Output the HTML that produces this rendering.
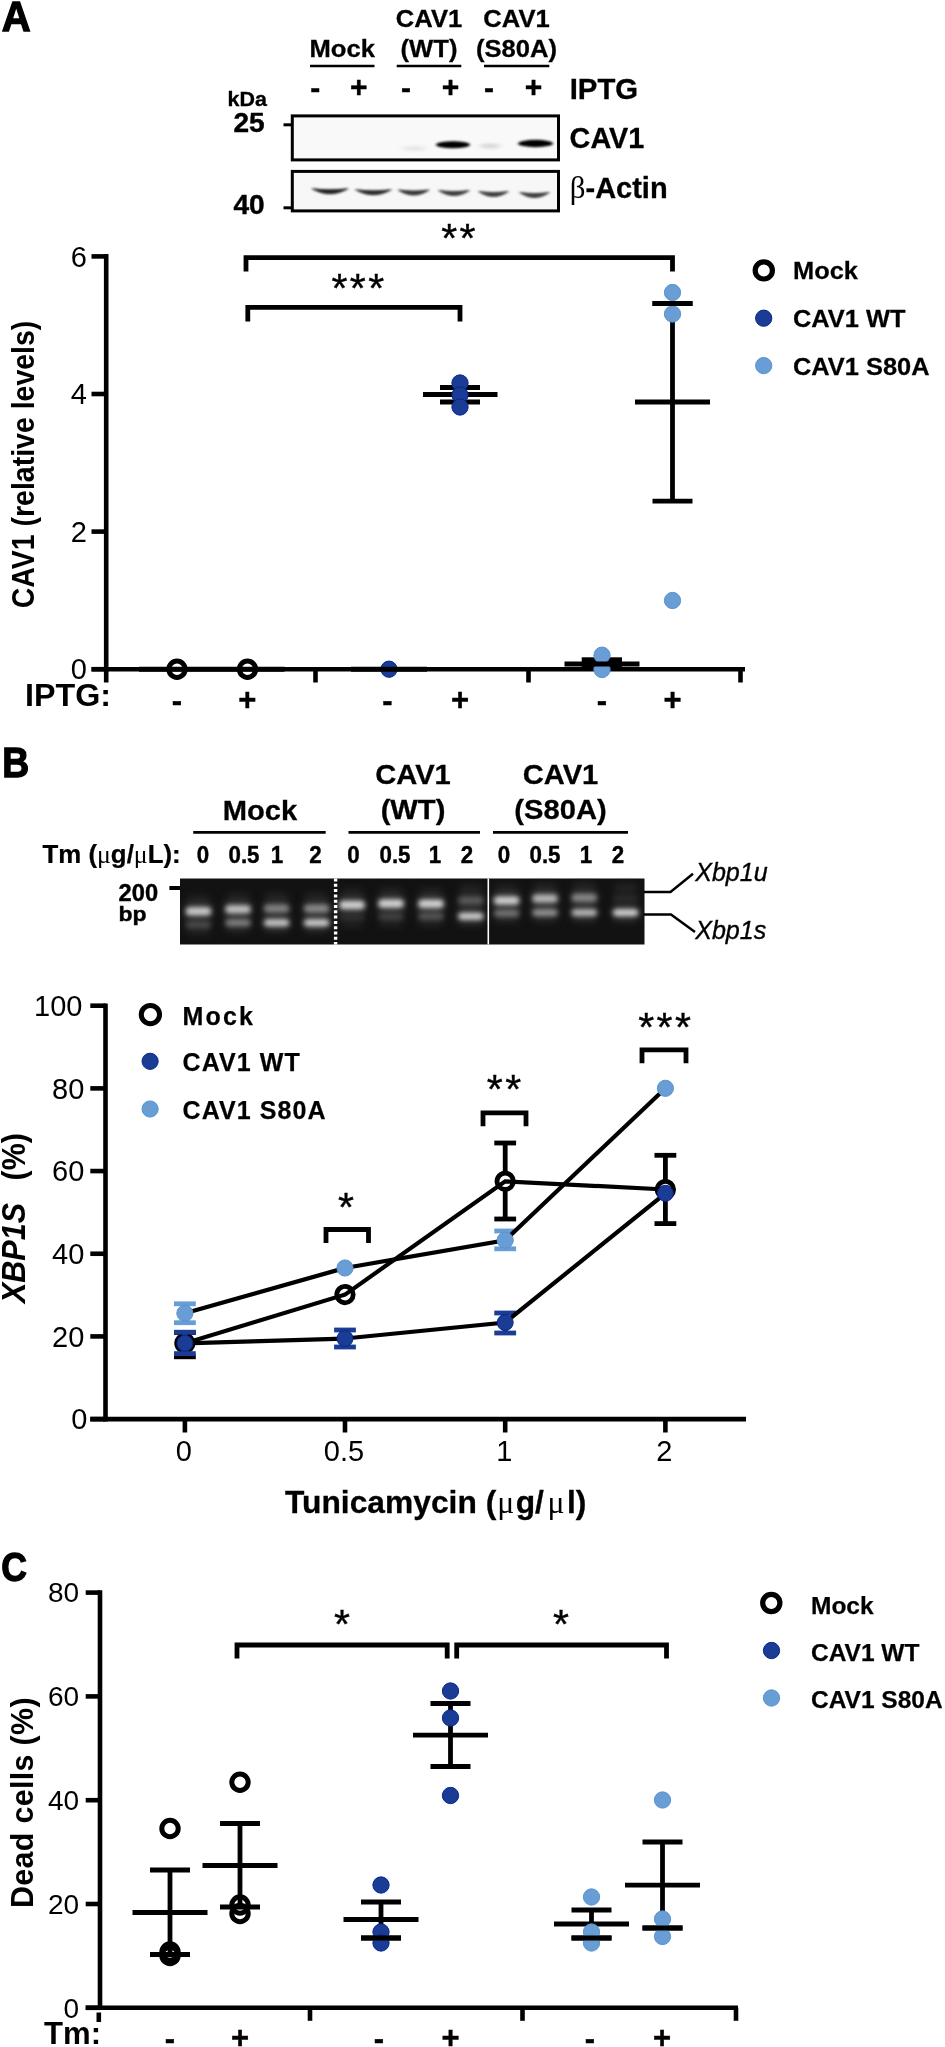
<!DOCTYPE html>
<html><head><meta charset="utf-8"><title>Figure</title>
<style>
html,body{margin:0;padding:0;background:#fff;}
svg{display:block;font-family:"Liberation Sans",sans-serif;}
</style></head><body>
<svg width="945" height="2047" viewBox="0 0 945 2047">
<defs>
<filter id="b1" color-interpolation-filters="sRGB" x="-30%" y="-150%" width="160%" height="400%"><feGaussianBlur stdDeviation="1.8 1.2"/></filter>
<filter id="b3" color-interpolation-filters="sRGB" x="-30%" y="-150%" width="160%" height="400%"><feGaussianBlur stdDeviation="3 1.6"/></filter>
<filter id="b2" color-interpolation-filters="sRGB" x="-30%" y="-150%" width="160%" height="400%"><feGaussianBlur stdDeviation="2.8 2.0"/></filter>
<filter id="b4" color-interpolation-filters="sRGB" x="-30%" y="-150%" width="160%" height="400%"><feGaussianBlur stdDeviation="3.5 3.5"/></filter>
<filter id="soft" color-interpolation-filters="sRGB" x="-5%" y="-5%" width="110%" height="110%"><feGaussianBlur stdDeviation="0.45"/></filter>
</defs>
<rect width="945" height="2047" fill="#fff"/>
<g filter="url(#soft)">

<g id="panelA">
<text transform="translate(1.8,31.3) scale(0.95,1)" font-size="42.2" font-weight="bold" text-anchor="start" stroke="#000" stroke-width="1.3"  style="">A</text>
<text transform="translate(342.2,57) scale(1.045,1)" font-size="24.5" font-weight="bold" text-anchor="middle" stroke="#000" stroke-width="0.3"  style="">Mock</text>
<line x1="310" y1="66" x2="374.5" y2="66" stroke="#000" stroke-width="2.6" />
<text transform="translate(429,26.5) scale(1.045,1)" font-size="24.5" font-weight="bold" text-anchor="middle" stroke="#000" stroke-width="0.3"  style="">CAV1</text>
<text transform="translate(429,57) scale(1.045,1)" font-size="24.5" font-weight="bold" text-anchor="middle" stroke="#000" stroke-width="0.3"  style="">(WT)</text>
<line x1="396.7" y1="66" x2="461.3" y2="66" stroke="#000" stroke-width="2.6" />
<text transform="translate(516.5,26.5) scale(1.045,1)" font-size="24.5" font-weight="bold" text-anchor="middle" stroke="#000" stroke-width="0.3"  style="">CAV1</text>
<text transform="translate(516.5,57) scale(1.045,1)" font-size="24.5" font-weight="bold" text-anchor="middle" stroke="#000" stroke-width="0.3"  style="">(S80A)</text>
<line x1="484" y1="66" x2="549.3" y2="66" stroke="#000" stroke-width="2.6" />
<text transform="translate(315.2,98) scale(1,1)" font-size="30" font-weight="bold" text-anchor="middle" stroke="#000" stroke-width="0.4"  style="">-</text>
<text transform="translate(358.7,97) scale(1,1)" font-size="30" font-weight="bold" text-anchor="middle" stroke="#000" stroke-width="0.4"  style="">+</text>
<text transform="translate(406.1,98) scale(1,1)" font-size="30" font-weight="bold" text-anchor="middle" stroke="#000" stroke-width="0.4"  style="">-</text>
<text transform="translate(450.6,97) scale(1,1)" font-size="30" font-weight="bold" text-anchor="middle" stroke="#000" stroke-width="0.4"  style="">+</text>
<text transform="translate(489.1,98) scale(1,1)" font-size="30" font-weight="bold" text-anchor="middle" stroke="#000" stroke-width="0.4"  style="">-</text>
<text transform="translate(533.6,97) scale(1,1)" font-size="30" font-weight="bold" text-anchor="middle" stroke="#000" stroke-width="0.4"  style="">+</text>
<text transform="translate(569.7,99) scale(1,1)" font-size="29.3" font-weight="bold" text-anchor="start" stroke="#000" stroke-width="0.3"  style="">IPTG</text>
<text transform="translate(227.5,106) scale(1.1,1)" font-size="19.5" font-weight="bold" text-anchor="start" stroke="#000" stroke-width="0.3"  style="">kDa</text>
<text transform="translate(233.5,132.2) scale(1.04,1)" font-size="27" font-weight="bold" text-anchor="start" stroke="#000" stroke-width="0.4"  style="">25</text>
<text transform="translate(233.5,213.8) scale(1.04,1)" font-size="27" font-weight="bold" text-anchor="start" stroke="#000" stroke-width="0.4"  style="">40</text>
<line x1="283.5" y1="124.8" x2="292" y2="124.8" stroke="#000" stroke-width="3" />
<line x1="283.5" y1="207.8" x2="292" y2="207.8" stroke="#000" stroke-width="3" />
<rect x="292.3" y="115.9" width="266.2" height="44" fill="#f9f9f9" stroke="#000" stroke-width="3"/>
<rect x="292.3" y="171.4" width="266.2" height="39.5" fill="#f7f7f7" stroke="#000" stroke-width="3"/>
<text transform="translate(569.6,148) scale(1,1)" font-size="28.8" font-weight="bold" text-anchor="start" stroke="#000" stroke-width="0.3"  style="">CAV1</text>
<text x="569.7" y="198.2" font-size="29" font-weight="bold" stroke="#000" stroke-width="0.3"><tspan font-family="Liberation Serif, serif" font-weight="normal" font-size="31" stroke="none">β</tspan>-Actin</text>
<g filter="url(#b3)">
<ellipse cx="414" cy="148.5" rx="12" ry="2.5" fill="#e6e6e6"/>
<ellipse cx="490" cy="146" rx="10" ry="2.6" fill="#d6d6d6"/>
</g><g filter="url(#b1)">
<ellipse cx="453" cy="144.8" rx="17" ry="3.5" fill="#000"/>
<ellipse cx="453" cy="144.8" rx="12" ry="3.1" fill="#000"/>
<ellipse cx="535.5" cy="143.5" rx="17.5" ry="3.7" fill="#000"/>
<ellipse cx="535.5" cy="143.5" rx="12.5" ry="3.3" fill="#000"/>
<path d="M312.5,188.8 Q330,190.8 347.5,188.8 Q330,198.6 312.5,188.8Z" fill="#262626" stroke="#262626" stroke-width="1.2" stroke-linejoin="round"/>
<path d="M355.9,189.8 Q373.4,191.8 390.9,189.8 Q373.4,199.6 355.9,189.8Z" fill="#2e2e2e" stroke="#2e2e2e" stroke-width="1.2" stroke-linejoin="round"/>
<path d="M398.7,190.0 Q413.7,192.0 428.7,190.0 Q413.7,199.79999999999998 398.7,190.0Z" fill="#383838" stroke="#383838" stroke-width="1.2" stroke-linejoin="round"/>
<path d="M439,190.60000000000002 Q454,192.60000000000002 469,190.60000000000002 Q454,200.4 439,190.60000000000002Z" fill="#404040" stroke="#404040" stroke-width="1.2" stroke-linejoin="round"/>
<path d="M479.0,191.60000000000002 Q493.5,193.60000000000002 508.0,191.60000000000002 Q493.5,201.4 479.0,191.60000000000002Z" fill="#404040" stroke="#404040" stroke-width="1.2" stroke-linejoin="round"/>
<path d="M520.0,192.60000000000002 Q534.5,194.60000000000002 549.0,192.60000000000002 Q534.5,202.4 520.0,192.60000000000002Z" fill="#404040" stroke="#404040" stroke-width="1.2" stroke-linejoin="round"/>
</g>
<line x1="106.2" y1="254.09999999999997" x2="106.2" y2="671.5" stroke="#000" stroke-width="4.6" />
<line x1="91.5" y1="669.2" x2="745" y2="669.2" stroke="#000" stroke-width="4.6" />
<line x1="91.5" y1="669.2" x2="106.2" y2="669.2" stroke="#000" stroke-width="4.6" />
<text transform="translate(87,679.4000000000001) scale(1,1)" font-size="29" font-weight="normal" text-anchor="end"  style="">0</text>
<line x1="91.5" y1="531.6" x2="106.2" y2="531.6" stroke="#000" stroke-width="4.6" />
<text transform="translate(87,541.8000000000001) scale(1,1)" font-size="29" font-weight="normal" text-anchor="end"  style="">2</text>
<line x1="91.5" y1="394.0" x2="106.2" y2="394.0" stroke="#000" stroke-width="4.6" />
<text transform="translate(87,404.2) scale(1,1)" font-size="29" font-weight="normal" text-anchor="end"  style="">4</text>
<line x1="91.5" y1="256.40000000000003" x2="106.2" y2="256.40000000000003" stroke="#000" stroke-width="4.6" />
<text transform="translate(87,266.6) scale(1,1)" font-size="29" font-weight="normal" text-anchor="end"  style="">6</text>
<line x1="106.2" y1="669.2" x2="106.2" y2="682.5" stroke="#000" stroke-width="4.6" />
<line x1="315.5" y1="669.2" x2="315.5" y2="682.5" stroke="#000" stroke-width="4.6" />
<line x1="528.5" y1="669.2" x2="528.5" y2="682.5" stroke="#000" stroke-width="4.6" />
<line x1="740.5" y1="669.2" x2="740.5" y2="682.5" stroke="#000" stroke-width="4.6" />
<text transform="translate(33.7,464.5) scale(1.115,1) rotate(-90)" font-size="28.5" font-weight="bold" text-anchor="middle">CAV1 (relative levels)</text>
<text transform="translate(25,706) scale(1.04,1)" font-size="31" font-weight="bold" text-anchor="start"  style="">IPTG:</text>
<text transform="translate(177,710.8) scale(1,1)" font-size="31" font-weight="bold" text-anchor="middle" stroke="#000" stroke-width="0.4"  style="">-</text>
<text transform="translate(247.3,710) scale(1,1)" font-size="31" font-weight="bold" text-anchor="middle" stroke="#000" stroke-width="0.4"  style="">+</text>
<text transform="translate(387.5,710.8) scale(1,1)" font-size="31" font-weight="bold" text-anchor="middle" stroke="#000" stroke-width="0.4"  style="">-</text>
<text transform="translate(460,710) scale(1,1)" font-size="31" font-weight="bold" text-anchor="middle" stroke="#000" stroke-width="0.4"  style="">+</text>
<text transform="translate(602,710.8) scale(1,1)" font-size="31" font-weight="bold" text-anchor="middle" stroke="#000" stroke-width="0.4"  style="">-</text>
<text transform="translate(672.5,710) scale(1,1)" font-size="31" font-weight="bold" text-anchor="middle" stroke="#000" stroke-width="0.4"  style="">+</text>
<line x1="139" y1="669.2" x2="284.5" y2="669.2" stroke="#000" stroke-width="5" />
<circle cx="177" cy="669.2" r="8.2" fill="none" stroke="#000" stroke-width="5.0"/>
<circle cx="247.5" cy="669.2" r="8.2" fill="none" stroke="#000" stroke-width="5.0"/>
<circle cx="389" cy="669.2" r="8.15" fill="#1a3c94" stroke="#06278e" stroke-width="1"/>
<line x1="351" y1="669.2" x2="427" y2="669.2" stroke="#000" stroke-width="5" />
<line x1="423" y1="394.5" x2="497.5" y2="394.5" stroke="#000" stroke-width="4.8" />
<line x1="440" y1="387.5" x2="480" y2="387.5" stroke="#000" stroke-width="4.8" />
<line x1="440" y1="402" x2="480" y2="402" stroke="#000" stroke-width="4.8" />
<circle cx="460" cy="383" r="8.15" fill="#1a3c94" stroke="#06278e" stroke-width="1"/>
<circle cx="460" cy="395" r="8.15" fill="#1a3c94" stroke="#06278e" stroke-width="1"/>
<circle cx="460" cy="407" r="8.15" fill="#1a3c94" stroke="#06278e" stroke-width="1"/>
<rect x="581.7" y="657.3" width="40.3" height="11" fill="#000"/>
<circle cx="602" cy="669.5" r="8.15" fill="#689dd5" stroke="#5b93cf" stroke-width="1"/>
<circle cx="602" cy="655.2" r="8.15" fill="#689dd5" stroke="#5b93cf" stroke-width="1"/>
<line x1="564.5" y1="664" x2="639.5" y2="664" stroke="#000" stroke-width="4.8" />
<line x1="635.0" y1="402" x2="710.0" y2="402" stroke="#000" stroke-width="4.8" />
<line x1="652.5" y1="303.5" x2="692.5" y2="303.5" stroke="#000" stroke-width="4.8" />
<line x1="652.5" y1="501.2" x2="692.5" y2="501.2" stroke="#000" stroke-width="4.8" />
<line x1="672.5" y1="303.5" x2="672.5" y2="501.2" stroke="#000" stroke-width="4.8" />
<circle cx="672.5" cy="292.5" r="8.15" fill="#689dd5" stroke="#5b93cf" stroke-width="1"/>
<circle cx="672.5" cy="314" r="8.15" fill="#689dd5" stroke="#5b93cf" stroke-width="1"/>
<circle cx="672.5" cy="600.5" r="8.15" fill="#689dd5" stroke="#5b93cf" stroke-width="1"/>
<line x1="652.5" y1="303.5" x2="692.5" y2="303.5" stroke="#000" stroke-width="4.8" />
<polyline points="246,271.6 246,257.6 672.5,257.6 672.5,271.6" fill="none" stroke="#000" stroke-width="4.8" stroke-linejoin="miter"/>
<polyline points="247.8,321.59999999999997 247.8,307.4 460,307.4 460,321.59999999999997" fill="none" stroke="#000" stroke-width="4.8" stroke-linejoin="miter"/>
<text transform="translate(359,301.5) scale(1,1)" font-size="41" font-weight="normal" text-anchor="middle" stroke="#000" stroke-width="0.4"  style="letter-spacing:2.4px">***</text>
<text transform="translate(459.5,252.3) scale(1,1)" font-size="41" font-weight="normal" text-anchor="middle" stroke="#000" stroke-width="0.4"  style="letter-spacing:2.4px">**</text>
<circle cx="763.8" cy="270.4" r="8.6" fill="none" stroke="#000" stroke-width="5.2"/>
<circle cx="763.7" cy="318.2" r="8.15" fill="#1a3c94" stroke="#06278e" stroke-width="1"/>
<circle cx="763.7" cy="365.6" r="8.15" fill="#689dd5" stroke="#5b93cf" stroke-width="1"/>
<text transform="translate(793,279) scale(1.03,1)" font-size="24.7" font-weight="bold" text-anchor="start" stroke="#000" stroke-width="0.25"  style="">Mock</text>
<text transform="translate(793,327.3) scale(1.03,1)" font-size="24.7" font-weight="bold" text-anchor="start" stroke="#000" stroke-width="0.25"  style="">CAV1 WT</text>
<text transform="translate(793,374.8) scale(1.03,1)" font-size="24.7" font-weight="bold" text-anchor="start" stroke="#000" stroke-width="0.25"  style="">CAV1 S80A</text>
</g>
<g id="panelB">
<text transform="translate(2.2,777.3) scale(0.895,1)" font-size="41.6" font-weight="bold" text-anchor="start" stroke="#000" stroke-width="1.3"  style="">B</text>
<text transform="translate(260,819.5) scale(1.03,1)" font-size="28.3" font-weight="bold" text-anchor="middle" stroke="#000" stroke-width="0.3"  style="">Mock</text>
<line x1="193.2" y1="832.4" x2="325.7" y2="832.4" stroke="#000" stroke-width="2.6" />
<text transform="translate(413,784) scale(1.03,1)" font-size="28.3" font-weight="bold" text-anchor="middle" stroke="#000" stroke-width="0.3"  style="">CAV1</text>
<text transform="translate(413,818.7) scale(1.03,1)" font-size="28.3" font-weight="bold" text-anchor="middle" stroke="#000" stroke-width="0.3"  style="">(WT)</text>
<line x1="348.5" y1="832.4" x2="480" y2="832.4" stroke="#000" stroke-width="2.6" />
<text transform="translate(560.5,784) scale(1.03,1)" font-size="28.3" font-weight="bold" text-anchor="middle" stroke="#000" stroke-width="0.3"  style="">CAV1</text>
<text transform="translate(560.5,818.7) scale(1.03,1)" font-size="28.3" font-weight="bold" text-anchor="middle" stroke="#000" stroke-width="0.3"  style="">(S80A)</text>
<line x1="493" y1="832.4" x2="628" y2="832.4" stroke="#000" stroke-width="2.6" />
<text transform="translate(42.5,862.8) scale(1.013,1)" font-size="25.5" font-weight="bold" stroke="#000" stroke-width="0.25">Tm (<tspan font-weight="normal" font-family="Liberation Serif, serif" stroke="none">μ</tspan>g/<tspan font-weight="normal" font-family="Liberation Serif, serif" stroke="none">μ</tspan>L):</text>
<text transform="translate(203,862.8) scale(0.95,1)" font-size="23.5" font-weight="bold" text-anchor="middle" stroke="#000" stroke-width="0.4"  style="">0</text>
<text transform="translate(244,862.8) scale(0.95,1)" font-size="23.5" font-weight="bold" text-anchor="middle" stroke="#000" stroke-width="0.4"  style="">0.5</text>
<text transform="translate(277,862.8) scale(0.95,1)" font-size="23.5" font-weight="bold" text-anchor="middle" stroke="#000" stroke-width="0.4"  style="">1</text>
<text transform="translate(315.5,862.8) scale(0.95,1)" font-size="23.5" font-weight="bold" text-anchor="middle" stroke="#000" stroke-width="0.4"  style="">2</text>
<text transform="translate(353.5,862.8) scale(0.95,1)" font-size="23.5" font-weight="bold" text-anchor="middle" stroke="#000" stroke-width="0.4"  style="">0</text>
<text transform="translate(395,862.8) scale(0.95,1)" font-size="23.5" font-weight="bold" text-anchor="middle" stroke="#000" stroke-width="0.4"  style="">0.5</text>
<text transform="translate(435,862.8) scale(0.95,1)" font-size="23.5" font-weight="bold" text-anchor="middle" stroke="#000" stroke-width="0.4"  style="">1</text>
<text transform="translate(467,862.8) scale(0.95,1)" font-size="23.5" font-weight="bold" text-anchor="middle" stroke="#000" stroke-width="0.4"  style="">2</text>
<text transform="translate(504,862.8) scale(0.95,1)" font-size="23.5" font-weight="bold" text-anchor="middle" stroke="#000" stroke-width="0.4"  style="">0</text>
<text transform="translate(545,862.8) scale(0.95,1)" font-size="23.5" font-weight="bold" text-anchor="middle" stroke="#000" stroke-width="0.4"  style="">0.5</text>
<text transform="translate(586,862.8) scale(0.95,1)" font-size="23.5" font-weight="bold" text-anchor="middle" stroke="#000" stroke-width="0.4"  style="">1</text>
<text transform="translate(618,862.8) scale(0.95,1)" font-size="23.5" font-weight="bold" text-anchor="middle" stroke="#000" stroke-width="0.4"  style="">2</text>
<text transform="translate(118.6,900.6) scale(1.03,1)" font-size="23" font-weight="bold" text-anchor="start" stroke="#000" stroke-width="0.4"  style="">200</text>
<text transform="translate(118.6,921) scale(1.12,1)" font-size="20.5" font-weight="bold" text-anchor="start" stroke="#000" stroke-width="0.4"  style="">bp</text>
<line x1="169.4" y1="888" x2="181" y2="888" stroke="#000" stroke-width="4" />
<rect x="180" y="878.5" width="464.5" height="66" fill="#121212"/>
<clipPath id="gelclip"><rect x="180" y="878.5" width="464.5" height="66"/></clipPath><g clip-path="url(#gelclip)">
<g filter="url(#b4)">
<rect x="187.5" y="895.2" width="22" height="39.59999999999991" fill="#222"/>
<rect x="227" y="893.2" width="22" height="39.59999999999991" fill="#222"/>
<rect x="265.6" y="892.5" width="22" height="40.299999999999955" fill="#222"/>
<rect x="305.6" y="892.5" width="22" height="40.299999999999955" fill="#222"/>
<rect x="341" y="889" width="22" height="38.299999999999955" fill="#222"/>
<rect x="380" y="887.5" width="22" height="39.0" fill="#222"/>
<rect x="420" y="887.8" width="22" height="38.40000000000009" fill="#222"/>
<rect x="459.8" y="884.5" width="22" height="41.700000000000045" fill="#222"/>
<rect x="495.6" y="884.5" width="22" height="38.700000000000045" fill="#222"/>
<rect x="534" y="882.5" width="22" height="40.10000000000002" fill="#222"/>
<rect x="573.3" y="881.7" width="22" height="40.89999999999998" fill="#222"/>
<rect x="614.6" y="883" width="22" height="39.60000000000002" fill="#222"/>
<rect x="185.5" y="905.2" width="26" height="12" rx="3" fill="rgb(86,86,86)"/>
<rect x="185.5" y="919.8" width="26" height="10" rx="3" fill="rgb(43,43,43)"/>
<rect x="225" y="903.2" width="26" height="12" rx="3" fill="rgb(83,83,83)"/>
<rect x="225" y="917.8" width="26" height="10" rx="3" fill="rgb(62,62,62)"/>
<rect x="263.6" y="902.5" width="26" height="12" rx="3" fill="rgb(63,63,63)"/>
<rect x="263.6" y="917.8" width="26" height="10" rx="3" fill="rgb(84,84,84)"/>
<rect x="303.6" y="902.5" width="26" height="12" rx="3" fill="rgb(66,66,66)"/>
<rect x="303.6" y="917.8" width="26" height="10" rx="3" fill="rgb(86,86,86)"/>
<rect x="339" y="899.0" width="26" height="12" rx="3" fill="rgb(90,90,90)"/>
<rect x="339" y="912.3" width="26" height="10" rx="3" fill="rgb(31,31,31)"/>
<rect x="378" y="897.5" width="26" height="12" rx="3" fill="rgb(90,90,90)"/>
<rect x="378" y="911.5" width="26" height="10" rx="3" fill="rgb(39,39,39)"/>
<rect x="418" y="897.8" width="26" height="12" rx="3" fill="rgb(90,90,90)"/>
<rect x="418" y="911.2" width="26" height="10" rx="3" fill="rgb(48,48,48)"/>
<rect x="457.8" y="894.5" width="26" height="12" rx="3" fill="rgb(49,49,49)"/>
<rect x="457.8" y="911.2" width="26" height="10" rx="3" fill="rgb(86,86,86)"/>
<rect x="493.6" y="894.5" width="26" height="12" rx="3" fill="rgb(88,88,88)"/>
<rect x="493.6" y="908.2" width="26" height="10" rx="3" fill="rgb(58,58,58)"/>
<rect x="532" y="892.5" width="26" height="12" rx="3" fill="rgb(79,79,79)"/>
<rect x="532" y="907.6" width="26" height="10" rx="3" fill="rgb(69,69,69)"/>
<rect x="571.3" y="891.7" width="26" height="12" rx="3" fill="rgb(65,65,65)"/>
<rect x="571.3" y="907.6" width="26" height="10" rx="3" fill="rgb(79,79,79)"/>
<rect x="612.6" y="893.0" width="26" height="12" rx="3" fill="rgb(28,28,28)"/>
<rect x="612.6" y="907.6" width="26" height="10" rx="3" fill="rgb(90,90,90)"/>
</g><g filter="url(#b2)">
<rect x="186.5" y="907.4000000000001" width="24" height="7.6" rx="2.5" fill="rgb(197,197,197)" fill-opacity="1.00"/>
<rect x="186.5" y="921.5999999999999" width="24" height="6.4" rx="2.5" fill="rgb(90,90,90)" fill-opacity="0.60"/>
<rect x="226" y="905.4000000000001" width="24" height="7.6" rx="2.5" fill="rgb(188,188,188)" fill-opacity="1.00"/>
<rect x="226" y="919.5999999999999" width="24" height="6.4" rx="2.5" fill="rgb(137,137,137)" fill-opacity="0.80"/>
<rect x="264.6" y="904.7" width="24" height="7.6" rx="2.5" fill="rgb(140,140,140)" fill-opacity="0.81"/>
<rect x="264.6" y="919.5999999999999" width="24" height="6.4" rx="2.5" fill="rgb(192,192,192)" fill-opacity="1.00"/>
<rect x="304.6" y="904.7" width="24" height="7.6" rx="2.5" fill="rgb(147,147,147)" fill-opacity="0.84"/>
<rect x="304.6" y="919.5999999999999" width="24" height="6.4" rx="2.5" fill="rgb(197,197,197)" fill-opacity="1.00"/>
<rect x="340" y="901.2" width="24" height="7.6" rx="2.5" fill="rgb(206,206,206)" fill-opacity="1.00"/>
<rect x="340" y="914.0999999999999" width="24" height="6.4" rx="2.5" fill="rgb(61,61,61)" fill-opacity="0.47"/>
<rect x="379" y="899.7" width="24" height="7.6" rx="2.5" fill="rgb(206,206,206)" fill-opacity="1.00"/>
<rect x="379" y="913.3" width="24" height="6.4" rx="2.5" fill="rgb(82,82,82)" fill-opacity="0.56"/>
<rect x="419" y="900.0" width="24" height="7.6" rx="2.5" fill="rgb(206,206,206)" fill-opacity="1.00"/>
<rect x="419" y="913.0" width="24" height="6.4" rx="2.5" fill="rgb(102,102,102)" fill-opacity="0.65"/>
<rect x="458.8" y="896.7" width="24" height="7.6" rx="2.5" fill="rgb(106,106,106)" fill-opacity="0.67"/>
<rect x="458.8" y="913.0" width="24" height="6.4" rx="2.5" fill="rgb(197,197,197)" fill-opacity="1.00"/>
<rect x="494.6" y="896.7" width="24" height="7.6" rx="2.5" fill="rgb(202,202,202)" fill-opacity="1.00"/>
<rect x="494.6" y="910.0" width="24" height="6.4" rx="2.5" fill="rgb(128,128,128)" fill-opacity="0.76"/>
<rect x="533" y="894.7" width="24" height="7.6" rx="2.5" fill="rgb(180,180,180)" fill-opacity="0.99"/>
<rect x="533" y="909.4" width="24" height="6.4" rx="2.5" fill="rgb(154,154,154)" fill-opacity="0.87"/>
<rect x="572.3" y="893.9000000000001" width="24" height="7.6" rx="2.5" fill="rgb(145,145,145)" fill-opacity="0.84"/>
<rect x="572.3" y="909.4" width="24" height="6.4" rx="2.5" fill="rgb(180,180,180)" fill-opacity="0.99"/>
<rect x="613.6" y="895.2" width="24" height="7.6" rx="2.5" fill="rgb(54,54,54)" fill-opacity="0.44"/>
<rect x="613.6" y="909.4" width="24" height="6.4" rx="2.5" fill="rgb(206,206,206)" fill-opacity="1.00"/>
</g></g>
<line x1="335.6" y1="878.5" x2="335.6" y2="944.5" stroke="#fff" stroke-width="3.4" stroke-dasharray="3 2.3"/>
<line x1="488.3" y1="878.5" x2="488.3" y2="944.5" stroke="#fff" stroke-width="1.6" />
<polyline points="644,892 670.5,892 693,873.8" fill="none" stroke="#000" stroke-width="2.5" stroke-linejoin="miter"/>
<polyline points="644,914.4 671,914.4 695,932" fill="none" stroke="#000" stroke-width="2.5" stroke-linejoin="miter"/>
<text transform="translate(695.2,881.4) scale(0.98,1)" font-size="25.6" font-weight="normal" text-anchor="start" stroke="#000" stroke-width="0.35" font-style="italic" style="">Xbp1u</text>
<text transform="translate(695.2,938.6) scale(0.98,1)" font-size="25.6" font-weight="normal" text-anchor="start" stroke="#000" stroke-width="0.35" font-style="italic" style="">Xbp1s</text>
<line x1="105.5" y1="1003.4000000000001" x2="105.5" y2="1421.3999999999999" stroke="#000" stroke-width="4.6" />
<line x1="90.3" y1="1419.1" x2="746" y2="1419.1" stroke="#000" stroke-width="4.6" />
<line x1="90.3" y1="1419.1" x2="105.5" y2="1419.1" stroke="#000" stroke-width="4.6" />
<text transform="translate(87.5,1429.3) scale(1,1)" font-size="29" font-weight="normal" text-anchor="end"  style="">0</text>
<line x1="90.3" y1="1336.4199999999998" x2="105.5" y2="1336.4199999999998" stroke="#000" stroke-width="4.6" />
<text transform="translate(84.3,1346.62) scale(1,1)" font-size="29" font-weight="normal" text-anchor="end"  style="">20</text>
<line x1="90.3" y1="1253.74" x2="105.5" y2="1253.74" stroke="#000" stroke-width="4.6" />
<text transform="translate(84.3,1263.94) scale(1,1)" font-size="29" font-weight="normal" text-anchor="end"  style="">40</text>
<line x1="90.3" y1="1171.06" x2="105.5" y2="1171.06" stroke="#000" stroke-width="4.6" />
<text transform="translate(84.3,1181.26) scale(1,1)" font-size="29" font-weight="normal" text-anchor="end"  style="">60</text>
<line x1="90.3" y1="1088.38" x2="105.5" y2="1088.38" stroke="#000" stroke-width="4.6" />
<text transform="translate(84.3,1098.5800000000002) scale(1,1)" font-size="29" font-weight="normal" text-anchor="end"  style="">80</text>
<line x1="90.3" y1="1005.7" x2="105.5" y2="1005.7" stroke="#000" stroke-width="4.6" />
<text transform="translate(82.5,1015.9000000000001) scale(1,1)" font-size="29" font-weight="normal" text-anchor="end"  style="">100</text>
<line x1="184.9" y1="1419.1" x2="184.9" y2="1432.5" stroke="#000" stroke-width="4.6" />
<text transform="translate(183.9,1461.3) scale(1,1)" font-size="29" font-weight="normal" text-anchor="middle"  style="">0</text>
<line x1="345.0" y1="1419.1" x2="345.0" y2="1432.5" stroke="#000" stroke-width="4.6" />
<text transform="translate(344.0,1461.3) scale(1,1)" font-size="29" font-weight="normal" text-anchor="middle"  style="">0.5</text>
<line x1="505.2" y1="1419.1" x2="505.2" y2="1432.5" stroke="#000" stroke-width="4.6" />
<text transform="translate(504.2,1461.3) scale(1,1)" font-size="29" font-weight="normal" text-anchor="middle"  style="">1</text>
<line x1="665.4" y1="1419.1" x2="665.4" y2="1432.5" stroke="#000" stroke-width="4.6" />
<text transform="translate(664.4,1461.3) scale(1,1)" font-size="29" font-weight="normal" text-anchor="middle"  style="">2</text>
<text transform="translate(285,1513.3) scale(0.993,1)" font-size="32" font-weight="bold" stroke="#000" stroke-width="0.3">Tunicamycin (<tspan font-weight="normal" font-family="Liberation Serif, serif" stroke="none" dx="1">μ</tspan><tspan dx="1.5">g/</tspan><tspan font-weight="normal" font-family="Liberation Serif, serif" stroke="none" dx="3.5">μ</tspan><tspan dx="2.5">l)</tspan></text>
<text transform="translate(25.4,1303) scale(1.065,1) rotate(-90)" font-size="30.5" font-weight="bold" font-style="italic" text-anchor="start">XBP1S</text>
<text transform="translate(25.4,1180.5) scale(1.065,1) rotate(-90)" font-size="30.5" font-weight="bold" text-anchor="start">(%)</text>
<circle cx="150.4" cy="1014.6" r="9.15" fill="none" stroke="#000" stroke-width="5.0"/>
<circle cx="150.1" cy="1061.3" r="8.1" fill="#1a3c94" stroke="#06278e" stroke-width="1"/>
<circle cx="150.1" cy="1109" r="8.1" fill="#689dd5" stroke="#5b93cf" stroke-width="1"/>
<text transform="translate(182.5,1024.5) scale(1,1)" font-size="25" font-weight="bold" text-anchor="start" stroke="#000" stroke-width="0.25"  style="letter-spacing:2.2px">Mock</text>
<text transform="translate(182.5,1071) scale(1,1)" font-size="25" font-weight="bold" text-anchor="start" stroke="#000" stroke-width="0.25"  style="letter-spacing:1.1px">CAV1 WT</text>
<text transform="translate(182.5,1119) scale(1,1)" font-size="25" font-weight="bold" text-anchor="start" stroke="#000" stroke-width="0.25"  style="letter-spacing:1.1px">CAV1 S80A</text>
<line x1="184.9" y1="1332.5" x2="184.9" y2="1356.8" stroke="#000" stroke-width="4.8" />
<line x1="174.0" y1="1332.5" x2="195.8" y2="1332.5" stroke="#000" stroke-width="4.8" />
<line x1="174.0" y1="1356.8" x2="195.8" y2="1356.8" stroke="#000" stroke-width="4.8" />
<line x1="184.9" y1="1303.8" x2="184.9" y2="1322.7" stroke="#689dd5" stroke-width="4.8" />
<line x1="174.0" y1="1303.8" x2="195.8" y2="1303.8" stroke="#689dd5" stroke-width="4.8" />
<line x1="174.0" y1="1322.7" x2="195.8" y2="1322.7" stroke="#689dd5" stroke-width="4.8" />
<line x1="345.0" y1="1330" x2="345.0" y2="1347" stroke="#1a3c94" stroke-width="4.8" />
<line x1="334.1" y1="1330" x2="355.9" y2="1330" stroke="#1a3c94" stroke-width="4.8" />
<line x1="334.1" y1="1347" x2="355.9" y2="1347" stroke="#1a3c94" stroke-width="4.8" />
<line x1="505.2" y1="1143" x2="505.2" y2="1219" stroke="#000" stroke-width="4.8" />
<line x1="494.3" y1="1143" x2="516.1" y2="1143" stroke="#000" stroke-width="4.8" />
<line x1="494.3" y1="1219" x2="516.1" y2="1219" stroke="#000" stroke-width="4.8" />
<line x1="505.2" y1="1231" x2="505.2" y2="1248.8" stroke="#689dd5" stroke-width="4.8" />
<line x1="494.3" y1="1231" x2="516.1" y2="1231" stroke="#689dd5" stroke-width="4.8" />
<line x1="494.3" y1="1248.8" x2="516.1" y2="1248.8" stroke="#689dd5" stroke-width="4.8" />
<line x1="505.2" y1="1313" x2="505.2" y2="1333" stroke="#1a3c94" stroke-width="4.8" />
<line x1="494.3" y1="1313" x2="516.1" y2="1313" stroke="#1a3c94" stroke-width="4.8" />
<line x1="494.3" y1="1333" x2="516.1" y2="1333" stroke="#1a3c94" stroke-width="4.8" />
<line x1="665.4" y1="1155.3" x2="665.4" y2="1223.6" stroke="#000" stroke-width="4.8" />
<line x1="654.5" y1="1155.3" x2="676.3" y2="1155.3" stroke="#000" stroke-width="4.8" />
<line x1="654.5" y1="1223.6" x2="676.3" y2="1223.6" stroke="#000" stroke-width="4.8" />
<circle cx="184.9" cy="1343.3" r="8.3" fill="#fff"/>
<circle cx="345.0" cy="1294.6" r="8.3" fill="#fff"/>
<circle cx="505.2" cy="1181.3" r="8.3" fill="#fff"/>
<circle cx="665.4" cy="1189.5" r="8.3" fill="#fff"/>
<polyline points="184.9,1313.3 345.0,1268 505.2,1240.2 665.4,1088.3" fill="none" stroke="#000" stroke-width="4.2" stroke-linejoin="miter"/>
<polyline points="184.9,1343.3 345.0,1294.6 505.2,1181.3 665.4,1189.5" fill="none" stroke="#000" stroke-width="4.2" stroke-linejoin="miter"/>
<polyline points="184.9,1343.3 345.0,1338.5 505.2,1322.5 665.4,1193.3" fill="none" stroke="#000" stroke-width="4.2" stroke-linejoin="miter"/>
<circle cx="184.9" cy="1313.3" r="8.1" fill="#689dd5" stroke="#5b93cf" stroke-width="1"/>
<circle cx="345.0" cy="1268" r="8.1" fill="#689dd5" stroke="#5b93cf" stroke-width="1"/>
<circle cx="505.2" cy="1240.2" r="8.1" fill="#689dd5" stroke="#5b93cf" stroke-width="1"/>
<circle cx="665.4" cy="1088.3" r="8.1" fill="#689dd5" stroke="#5b93cf" stroke-width="1"/>
<circle cx="184.9" cy="1343.3" r="8.2" fill="none" stroke="#000" stroke-width="4.8"/>
<circle cx="345.0" cy="1294.6" r="8.2" fill="none" stroke="#000" stroke-width="4.8"/>
<circle cx="505.2" cy="1181.3" r="8.2" fill="none" stroke="#000" stroke-width="4.8"/>
<circle cx="665.4" cy="1189.5" r="8.2" fill="none" stroke="#000" stroke-width="4.8"/>
<line x1="184.9" y1="1332.2" x2="184.9" y2="1353.6" stroke="#1a3c94" stroke-width="4.8" />
<line x1="174.0" y1="1332.2" x2="195.8" y2="1332.2" stroke="#1a3c94" stroke-width="4.8" />
<line x1="174.0" y1="1353.6" x2="195.8" y2="1353.6" stroke="#1a3c94" stroke-width="4.8" />
<circle cx="184.9" cy="1343.3" r="8.0" fill="#1a3c94" stroke="#06278e" stroke-width="1"/>
<circle cx="345.0" cy="1338.5" r="8.0" fill="#1a3c94" stroke="#06278e" stroke-width="1"/>
<circle cx="505.2" cy="1322.5" r="8.0" fill="#1a3c94" stroke="#06278e" stroke-width="1"/>
<circle cx="665.4" cy="1193.3" r="8.0" fill="#1a3c94" stroke="#06278e" stroke-width="1"/>
<polyline points="326,1243.0 326,1229.5 368.5,1229.5 368.5,1243.0" fill="none" stroke="#000" stroke-width="4.8" stroke-linejoin="miter"/>
<polyline points="483,1126.3 483,1112.8 526,1112.8 526,1126.3" fill="none" stroke="#000" stroke-width="4.8" stroke-linejoin="miter"/>
<polyline points="642,1063.3 642,1049.8 686,1049.8 686,1063.3" fill="none" stroke="#000" stroke-width="4.8" stroke-linejoin="miter"/>
<text transform="translate(346,1220.5) scale(1,1)" font-size="41" font-weight="normal" text-anchor="middle" stroke="#000" stroke-width="0.4"  style="">*</text>
<text transform="translate(505.2,1102.5) scale(1,1)" font-size="41" font-weight="normal" text-anchor="middle" stroke="#000" stroke-width="0.4"  style="letter-spacing:2.4px">**</text>
<text transform="translate(665.7,1040.5) scale(1,1)" font-size="41" font-weight="normal" text-anchor="middle" stroke="#000" stroke-width="0.4"  style="letter-spacing:2.4px">***</text>
</g>
<g id="panelC">
<text transform="translate(1.2,1580.6) scale(0.88,1)" font-size="40.5" font-weight="bold" text-anchor="start" stroke="#000" stroke-width="1.3"  style="">C</text>
<line x1="100" y1="1590.3" x2="100" y2="2010.1" stroke="#000" stroke-width="4.6" />
<line x1="85.7" y1="2007.8" x2="738" y2="2007.8" stroke="#000" stroke-width="4.6" />
<line x1="85.7" y1="2007.8" x2="100" y2="2007.8" stroke="#000" stroke-width="4.6" />
<text transform="translate(79.2,2017.6) scale(1,1)" font-size="28" font-weight="normal" text-anchor="end"  style="">0</text>
<line x1="85.7" y1="1904.0" x2="100" y2="1904.0" stroke="#000" stroke-width="4.6" />
<text transform="translate(79.2,1913.8) scale(1,1)" font-size="28" font-weight="normal" text-anchor="end"  style="">20</text>
<line x1="85.7" y1="1800.2" x2="100" y2="1800.2" stroke="#000" stroke-width="4.6" />
<text transform="translate(79.2,1810.0) scale(1,1)" font-size="28" font-weight="normal" text-anchor="end"  style="">40</text>
<line x1="85.7" y1="1696.3999999999999" x2="100" y2="1696.3999999999999" stroke="#000" stroke-width="4.6" />
<text transform="translate(79.2,1706.1999999999998) scale(1,1)" font-size="28" font-weight="normal" text-anchor="end"  style="">60</text>
<line x1="85.7" y1="1592.6" x2="100" y2="1592.6" stroke="#000" stroke-width="4.6" />
<text transform="translate(79.2,1602.3999999999999) scale(1,1)" font-size="28" font-weight="normal" text-anchor="end"  style="">80</text>
<line x1="98.8" y1="2012.5" x2="98.8" y2="2022" stroke="#000" stroke-width="4.6" />
<line x1="310" y1="2007.8" x2="310" y2="2020.8" stroke="#000" stroke-width="4.6" />
<line x1="522.5" y1="2007.8" x2="522.5" y2="2020.8" stroke="#000" stroke-width="4.6" />
<line x1="736" y1="2007.8" x2="736" y2="2020.8" stroke="#000" stroke-width="4.6" />
<text transform="translate(33,1908) scale(1.035,1) rotate(-90)" font-size="30.5" font-weight="bold" text-anchor="start" style="letter-spacing:0.3px">Dead cells (%)</text>
<text transform="translate(44,2044.3) scale(1.02,1)" font-size="30.5" font-weight="bold" text-anchor="start"  style="">Tm:</text>
<text transform="translate(170,2049) scale(1,1)" font-size="31" font-weight="bold" text-anchor="middle" stroke="#000" stroke-width="0.4"  style="">-</text>
<text transform="translate(240,2047.8) scale(1,1)" font-size="31" font-weight="bold" text-anchor="middle" stroke="#000" stroke-width="0.4"  style="">+</text>
<text transform="translate(379,2049) scale(1,1)" font-size="31" font-weight="bold" text-anchor="middle" stroke="#000" stroke-width="0.4"  style="">-</text>
<text transform="translate(450.5,2047.8) scale(1,1)" font-size="31" font-weight="bold" text-anchor="middle" stroke="#000" stroke-width="0.4"  style="">+</text>
<text transform="translate(590,2049) scale(1,1)" font-size="31" font-weight="bold" text-anchor="middle" stroke="#000" stroke-width="0.4"  style="">-</text>
<text transform="translate(662,2047.8) scale(1,1)" font-size="31" font-weight="bold" text-anchor="middle" stroke="#000" stroke-width="0.4"  style="">+</text>
<line x1="132.5" y1="1912.5" x2="207.5" y2="1912.5" stroke="#000" stroke-width="4.8" />
<line x1="150" y1="1870" x2="190" y2="1870" stroke="#000" stroke-width="4.8" />
<line x1="150" y1="1954.5" x2="190" y2="1954.5" stroke="#000" stroke-width="4.8" />
<line x1="170" y1="1870" x2="170" y2="1954.5" stroke="#000" stroke-width="4.8" />
<circle cx="170" cy="1828.5" r="8.2" fill="none" stroke="#000" stroke-width="5.0"/>
<circle cx="170" cy="1952" r="8.2" fill="none" stroke="#000" stroke-width="5.0"/>
<circle cx="170" cy="1955.5" r="8.2" fill="none" stroke="#000" stroke-width="5.0"/>
<line x1="202.5" y1="1865.5" x2="277.5" y2="1865.5" stroke="#000" stroke-width="4.8" />
<line x1="220" y1="1823.5" x2="260" y2="1823.5" stroke="#000" stroke-width="4.8" />
<line x1="220" y1="1907" x2="260" y2="1907" stroke="#000" stroke-width="4.8" />
<line x1="240" y1="1823.5" x2="240" y2="1907" stroke="#000" stroke-width="4.8" />
<circle cx="240" cy="1782.2" r="8.2" fill="none" stroke="#000" stroke-width="5.0"/>
<circle cx="240" cy="1905" r="8.2" fill="none" stroke="#000" stroke-width="5.0"/>
<circle cx="240" cy="1913.5" r="8.2" fill="none" stroke="#000" stroke-width="5.0"/>
<line x1="343.5" y1="1919.5" x2="418.5" y2="1919.5" stroke="#000" stroke-width="4.8" />
<line x1="361" y1="1902" x2="401" y2="1902" stroke="#000" stroke-width="4.8" />
<line x1="361" y1="1938" x2="401" y2="1938" stroke="#000" stroke-width="4.8" />
<line x1="381" y1="1902" x2="381" y2="1938" stroke="#000" stroke-width="4.8" />
<circle cx="381" cy="1885" r="8.15" fill="#1a3c94" stroke="#06278e" stroke-width="1"/>
<circle cx="381" cy="1932" r="8.15" fill="#1a3c94" stroke="#06278e" stroke-width="1"/>
<circle cx="381" cy="1943" r="8.15" fill="#1a3c94" stroke="#06278e" stroke-width="1"/>
<line x1="361" y1="1938" x2="401" y2="1938" stroke="#000" stroke-width="4.8" />
<line x1="413.0" y1="1735.2" x2="488.0" y2="1735.2" stroke="#000" stroke-width="4.8" />
<line x1="430.5" y1="1703.5" x2="470.5" y2="1703.5" stroke="#000" stroke-width="4.8" />
<line x1="430.5" y1="1766.5" x2="470.5" y2="1766.5" stroke="#000" stroke-width="4.8" />
<line x1="450.5" y1="1703.5" x2="450.5" y2="1766.5" stroke="#000" stroke-width="4.8" />
<circle cx="450.5" cy="1691" r="8.15" fill="#1a3c94" stroke="#06278e" stroke-width="1"/>
<circle cx="450.5" cy="1718" r="8.15" fill="#1a3c94" stroke="#06278e" stroke-width="1"/>
<circle cx="450.5" cy="1795.5" r="8.15" fill="#1a3c94" stroke="#06278e" stroke-width="1"/>
<line x1="554.0" y1="1924" x2="629.0" y2="1924" stroke="#000" stroke-width="4.8" />
<line x1="571.5" y1="1910" x2="611.5" y2="1910" stroke="#000" stroke-width="4.8" />
<line x1="571.5" y1="1938" x2="611.5" y2="1938" stroke="#000" stroke-width="4.8" />
<line x1="591.5" y1="1910" x2="591.5" y2="1938" stroke="#000" stroke-width="4.8" />
<circle cx="591.5" cy="1897" r="8.15" fill="#689dd5" stroke="#5b93cf" stroke-width="1"/>
<circle cx="591.5" cy="1932" r="8.15" fill="#689dd5" stroke="#5b93cf" stroke-width="1"/>
<circle cx="591.5" cy="1943" r="8.15" fill="#689dd5" stroke="#5b93cf" stroke-width="1"/>
<line x1="571.5" y1="1938" x2="611.5" y2="1938" stroke="#000" stroke-width="4.8" />
<line x1="625.0" y1="1885.2" x2="700.0" y2="1885.2" stroke="#000" stroke-width="4.8" />
<line x1="642.5" y1="1842" x2="682.5" y2="1842" stroke="#000" stroke-width="4.8" />
<line x1="642.5" y1="1928" x2="682.5" y2="1928" stroke="#000" stroke-width="4.8" />
<line x1="662.5" y1="1842" x2="662.5" y2="1928" stroke="#000" stroke-width="4.8" />
<circle cx="662.5" cy="1800" r="8.15" fill="#689dd5" stroke="#5b93cf" stroke-width="1"/>
<circle cx="662.5" cy="1919" r="8.15" fill="#689dd5" stroke="#5b93cf" stroke-width="1"/>
<circle cx="662.5" cy="1936.5" r="8.15" fill="#689dd5" stroke="#5b93cf" stroke-width="1"/>
<line x1="642.5" y1="1928" x2="682.5" y2="1928" stroke="#000" stroke-width="4.8" />
<polyline points="237,1658.5 237,1645 447.2,1645 447.2,1658.5" fill="none" stroke="#000" stroke-width="4.8" stroke-linejoin="miter"/>
<polyline points="456.7,1658.5 456.7,1645 666.5,1645 666.5,1658.5" fill="none" stroke="#000" stroke-width="4.8" stroke-linejoin="miter"/>
<text transform="translate(342,1638) scale(1,1)" font-size="41" font-weight="normal" text-anchor="middle" stroke="#000" stroke-width="0.4"  style="">*</text>
<text transform="translate(561,1638) scale(1,1)" font-size="41" font-weight="normal" text-anchor="middle" stroke="#000" stroke-width="0.4"  style="">*</text>
<circle cx="771.3" cy="1603" r="8.6" fill="none" stroke="#000" stroke-width="5.2"/>
<circle cx="771.5" cy="1650.5" r="8.15" fill="#1a3c94" stroke="#06278e" stroke-width="1"/>
<circle cx="771.5" cy="1698" r="8.15" fill="#689dd5" stroke="#5b93cf" stroke-width="1"/>
<text transform="translate(811,1613.5) scale(1.0,1)" font-size="24.5" font-weight="bold" text-anchor="start" stroke="#000" stroke-width="0.25"  style="">Mock</text>
<text transform="translate(811,1661) scale(1.0,1)" font-size="24.5" font-weight="bold" text-anchor="start" stroke="#000" stroke-width="0.25"  style="">CAV1 WT</text>
<text transform="translate(811,1708) scale(1.0,1)" font-size="24.5" font-weight="bold" text-anchor="start" stroke="#000" stroke-width="0.25"  style="">CAV1 S80A</text>
</g>
</g></svg></body></html>
